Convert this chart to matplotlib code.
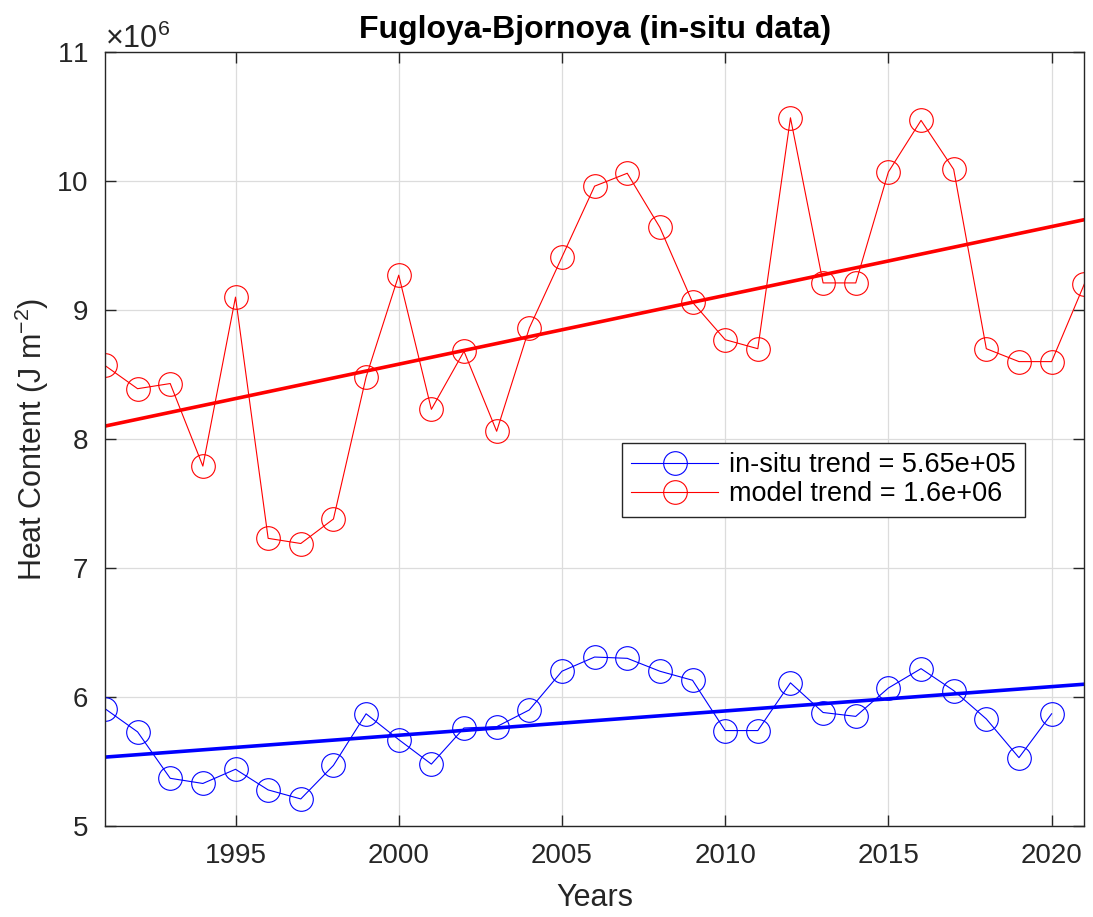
import numpy as np
import matplotlib
matplotlib.use("Agg")
import matplotlib.pyplot as plt
from matplotlib.ticker import ScalarFormatter

plt.rcParams['font.family'] = ['Liberation Sans', 'DejaVu Sans']
plt.rcParams['mathtext.default'] = 'regular'

# yearly heat content, units of 1e6 J m^-2
years_insitu = np.arange(1991, 2021)
heat_insitu = np.array([5.91, 5.73, 5.37, 5.33, 5.44, 5.28, 5.21, 5.47, 5.87, 5.67,
                        5.48, 5.76, 5.77, 5.90, 6.20, 6.31, 6.30, 6.20, 6.13, 5.74,
                        5.74, 6.11, 5.88, 5.85, 6.07, 6.22, 6.05, 5.83, 5.53, 5.87]) * 1e6

years_model = np.arange(1991, 2022)
heat_model = np.array([8.57, 8.39, 8.43, 7.79, 9.10, 7.23, 7.19, 7.38, 8.48, 9.27,
                       8.23, 8.68, 8.06, 8.86, 9.41, 9.96, 10.06, 9.64, 9.06, 8.77,
                       8.70, 10.49, 9.21, 9.21, 10.07, 10.47, 10.09, 8.70, 8.60, 8.60,
                       9.20]) * 1e6

# change over the 30-year period
trend_insitu = 5.65e5
trend_model = 1.6e6
period = 30.0

xt = np.array([1991, 2021])


def trend_line(x, y, total):
    slope = total / period
    return y.mean() + slope * (xt - x.mean())


fig = plt.figure(figsize=(10.93, 9.17), dpi=100)
ax = fig.add_axes([0.096, 0.0992, 0.896, 0.8441])

ax.plot(years_insitu, heat_insitu, '-o', color='b', lw=0.8, ms=17, mfc='none',
        mew=0.8, label='in-situ trend = 5.65e+05')
ax.plot(years_model, heat_model, '-o', color='r', lw=0.8, ms=17, mfc='none',
        mew=0.8, label='model trend = 1.6e+06')
ax.plot(xt, trend_line(years_insitu, heat_insitu, trend_insitu), color='b', lw=2.6)
ax.plot(xt, trend_line(years_model, heat_model, trend_model), color='r', lw=2.6)

ax.set_xlim(1991, 2021)
ax.set_ylim(5e6, 11e6)
ax.set_xticks(np.arange(1995, 2021, 5))
ax.set_yticks(np.arange(5e6, 11.1e6, 1e6))

fmt = ScalarFormatter(useMathText=True)
fmt.set_powerlimits((6, 6))
ax.yaxis.set_major_formatter(fmt)
ax.yaxis.get_offset_text().set_fontsize(22)
ax.yaxis.get_offset_text().set_color('#262626')

ax.grid(True, color='#dcdcdc', lw=0.9)
ax.set_axisbelow(True)
for s in ax.spines.values():
    s.set_color('#262626')
    s.set_linewidth(1.0)
ax.tick_params(direction='in', length=8, width=1.0, top=True, right=True,
               labelsize=20, colors='#262626', pad=12)

ax.set_xlabel('Years', fontsize=22, color='#262626', labelpad=10)
ax.set_ylabel('Heat Content (J m$^{-2}$)', fontsize=22, color='#262626', labelpad=4)
ax.set_title('Fugloya-Bjornoya (in-situ data)', fontsize=23, fontweight='bold', pad=10)

leg = ax.legend(loc='upper left', bbox_to_anchor=(0.528, 0.495), fontsize=19.5,
                fancybox=False, framealpha=1, edgecolor='#262626', handlelength=3.2,
                borderpad=0.35, labelspacing=0.1, handletextpad=0.4, borderaxespad=0)
leg.get_frame().set_linewidth(1.0)

fig.savefig('out.png', dpi=100)
